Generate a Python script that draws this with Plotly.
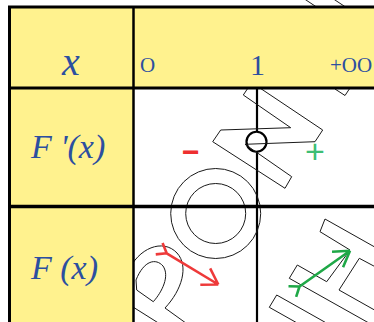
import math
import plotly.graph_objects as go

# ---- data -------------------------------------------------------------
x_values = ["O", "1", "+OO"]                 # header values of x
row_labels = ["x", "F '(x)", "F (x)"]        # first-column labels
deriv_signs = ["−", "+"]                     # sign of F'(x) on each interval
deriv_colors = ["#EE3030", "#3DBE74"]
variations = ["down", "up"]                  # variation of F on each interval
var_colors = ["#EE3A3A", "#1FA847"]

# ---- layout geometry (pixels) -----------------------------------------
W, H = 374, 322
X_LEFT, X_DIV, X_MID, X_RIGHT = 9.5, 133.5, 257, 380
Y_TOP, Y_R1, Y_R2, Y_BOT = 7, 88, 206.5, 330
YELLOW = "#FFF28E"
BLUE = "#2C4FA0"

shapes = []
annotations = []

def line(x0, y0, x1, y1, w=3, c="black"):
    shapes.append(dict(type="line", x0=x0, y0=y0, x1=x1, y1=y1,
                       xref="x", yref="y", line=dict(color=c, width=w)))

def path(d, w=1, c="#1a1a1a", fill="rgba(0,0,0,0)"):
    shapes.append(dict(type="path", path=d, xref="x", yref="y",
                       line=dict(color=c, width=w), fillcolor=fill))

# vertical line through x = 1 and the zero circle of F'
line(X_MID, Y_R1, X_MID, Y_BOT, w=2.2)
cy = (Y_R1 + Y_R2) / 2 - 6
shapes.append(dict(type="circle", xref="x", yref="y", x0=X_MID - 10.5, x1=X_MID + 9.5,
                   y0=cy - 9.5, y1=cy + 10.5, fillcolor="white",
                   line=dict(color="black", width=2.2)))

# ---- watermark outlines ------------------------------------------------
def poly(pts, closed=True):
    d = "M " + " L ".join(f"{x},{y}" for x, y in pts)
    return d + (" Z" if closed else "")

path(poly([(243.3, 95), (251.7, 82.5), (322.7, 130), (315, 141.7), (245, 144.3),
           (291.7, 176.7), (285, 188.3), (212.7, 141.7), (220.7, 130), (290.7, 127.7)]))
path(poly([(325, 219), (499, 317), (492, 329), (359.3, 258.3), (339, 290), (513, 388),
           (506, 400), (289.3, 278.3), (297.3, 265), (326.7, 281.7), (350, 250),
           (320, 231.7)]))
path(poly([(276.7, 295), (363.7, 344), (356.3, 356.3), (269.3, 307.3)]))
path(poly([(335, 89), (345, 95.5), (350, 88)], closed=False))
path(poly([(297, -6), (318, 8)], closed=False))
path(poly([(326, -6), (347, 8)], closed=False))
# "O"
for r in (45, 30):
    shapes.append(dict(type="circle", xref="x", yref="y", x0=215.7 - r, x1=215.7 + r,
                       y0=213.5 - r, y1=213.5 + r, line=dict(color="#1a1a1a", width=1)))
# "P"
path("M 128,272 C 138,248 163,238 177,253 C 189,266 182,290 165,308 L 190,326")
path("M 136.7,290 L 153.3,301.7 C 162,292 170,276 163,266 C 156,258 144,260 136,280 Z")
path("M 133,307 L 160,324")

# ---- yellow cells ------------------------------------------------------
shapes.append(dict(type="rect", xref="x", yref="y", x0=X_LEFT, x1=X_RIGHT, y0=Y_TOP, y1=Y_R1,
                   fillcolor=YELLOW, line=dict(width=0)))
shapes.append(dict(type="rect", xref="x", yref="y", x0=X_LEFT, x1=X_DIV, y0=Y_R1, y1=Y_BOT,
                   fillcolor=YELLOW, line=dict(width=0)))

# ---- grid lines --------------------------------------------------------
line(X_LEFT - 1.5, Y_TOP, X_RIGHT, Y_TOP, w=3)
line(X_LEFT, Y_TOP, X_LEFT, Y_BOT, w=3)
line(X_DIV, Y_TOP, X_DIV, Y_BOT, w=2.5)
line(X_LEFT, Y_R1, X_RIGHT, Y_R1, w=3)
line(X_LEFT, Y_R2, X_RIGHT, Y_R2, w=3.5)

# ---- labels -----------------------------------------------------------
def text(x, y, s, size, italic=False, color=BLUE, family="Liberation Serif", bold=False):
    annotations.append(dict(x=x, y=y, xref="x", yref="y", text=s, showarrow=False,
                            xanchor="center", yanchor="middle",
                            font=dict(family=family, size=size, color=color,
                                      style="italic" if italic else "normal",
                                      weight="bold" if bold else "normal")))

text(70, 61, row_labels[0], 40, italic=True)
text(67, 147, row_labels[1], 34, italic=True)
text(64, 268, row_labels[2], 34, italic=True)

value_x = [147, 257.5, 350.5]
value_size = [21, 30, 21]
value_y = [64.5, 64, 64.5]
for vx, vs, vy, lab in zip(value_x, value_size, value_y, x_values):
    text(vx, vy, lab, vs)

sign_x = [191, 314.5]
sign_size = [30, 34]
for sx, sg, sc, ss in zip(sign_x, deriv_signs, deriv_colors, sign_size):
    text(sx, 151, sg, ss, color=sc, family="Liberation Sans", bold=(sg == "−"))

# ---- variation arrows --------------------------------------------------
def arrow(tail, head, color):
    tx, ty = tail
    hx, hy = head
    L = math.hypot(hx - tx, hy - ty)
    ux, uy = (hx - tx) / L, (hy - ty) / L
    def rot(vx, vy, a):
        ca, sa = math.cos(a), math.sin(a)
        return vx * ca - vy * sa, vx * sa + vy * ca
    d = f"M {tx},{ty} L {hx},{hy}"
    for a in (math.radians(32), math.radians(-32)):
        rx, ry = rot(-ux, -uy, a)
        d += f" M {hx},{hy} L {hx + 18 * rx},{hy + 18 * ry}"
        fx, fy = rot(-ux, -uy, a * 1.15)
        d += f" M {tx},{ty} L {tx + 11 * fx},{ty + 11 * fy}"
    path(d, w=2.6, c=color)

arrow_ends = {"down": ((166.7, 253.3), (218.3, 284.5)),
              "up": ((299.5, 286.5), (350, 250.7))}
for v, c in zip(variations, var_colors):
    arrow(*arrow_ends[v], c)

fig = go.Figure()
fig.update_layout(
    width=W, height=H, margin=dict(l=0, r=0, t=0, b=0),
    paper_bgcolor="white", plot_bgcolor="white",
    xaxis=dict(range=[0, W], visible=False, fixedrange=True),
    yaxis=dict(range=[H, 0], visible=False, fixedrange=True),
    shapes=shapes, annotations=annotations, showlegend=False,
)
fig.write_html("out.html", config={"displayModeBar": False},
               post_script="document.body.style.margin='0px';")
